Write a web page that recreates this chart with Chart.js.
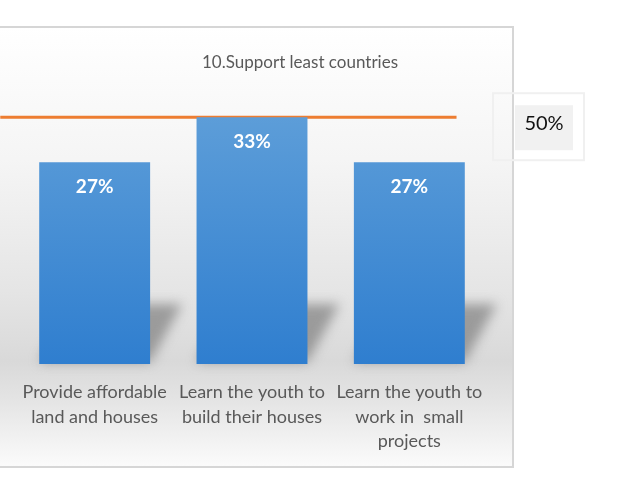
<!DOCTYPE html>
<html>
<head>
<meta charset="utf-8">
<script src="https://cdn.jsdelivr.net/npm/chart.js@4/dist/chart.umd.min.js"></script>
<style>
  html, body { margin: 0; padding: 0; background: #ffffff; }
  #wrap { width: 639px; height: 477px; position: relative; }
</style>
</head>
<body>
<div id="wrap"><canvas id="c" width="639" height="477"></canvas></div>
<script>
// Chart content
const chartTitle = '10.Support least countries';
const categories = [
  ['Provide affordable', 'land and houses'],
  ['Learn the youth to', 'build their houses'],
  ['Learn the youth to', 'work in  small', 'projects']
];
const shares = [27, 33, 27];            // percent per category
const targetLevel = 50;                 // target line, percent
const targetSpan = [-0.6, 2.3];         // line extent, in category index units

const FONT = 'Lato, "Open Sans", sans-serif';

// Frame, floor shading and the perspective shadows behind the bars
const backdrop = {
  id: 'backdrop',
  beforeDraw(chart) {
    const { ctx, chartArea } = chart;
    ctx.save();
    ctx.fillStyle = '#ffffff';
    ctx.fillRect(0, 0, chart.width, chart.height);
    const left = -2, top = 27, right = chartArea.right + 25, bottom = 467;
    const g = ctx.createLinearGradient(0, top, 0, bottom);
    g.addColorStop(0.00, '#ffffff');
    g.addColorStop(0.30, '#f5f5f5');
    g.addColorStop(0.60, '#e5e5e5');
    g.addColorStop(0.76, '#d9d9d9');
    g.addColorStop(0.84, '#e3e3e3');
    g.addColorStop(1.00, '#fbfbfb');
    ctx.fillStyle = g;
    ctx.fillRect(left, top, right - left, bottom - top);
    ctx.strokeStyle = '#d6d6d6';
    ctx.lineWidth = 2;
    ctx.strokeRect(left, top, right - left, bottom - top);
    ctx.restore();
  },
  beforeDatasetsDraw(chart) {
    const { ctx } = chart;
    const meta = chart.getDatasetMeta(0);
    ctx.save();
    ctx.filter = 'blur(6px)';
    ctx.fillStyle = 'rgba(125,125,125,0.7)';
    meta.data.forEach(bar => {
      const l = bar.x - bar.width / 2, r = bar.x + bar.width / 2, b = bar.base;
      const skew = 32, h = 60;
      ctx.beginPath();
      ctx.moveTo(l, b - 2);
      ctx.lineTo(r, b - 2);
      ctx.lineTo(r + skew, b - h);
      ctx.lineTo(l + skew, b - h);
      ctx.closePath();
      ctx.fill();
    });
    ctx.restore();
  }
};

// Value labels inside the bars and the target label box
const valueLabels = {
  id: 'valueLabels',
  afterDatasetsDraw(chart) {
    const { ctx, chartArea } = chart;
    ctx.save();
    const meta = chart.getDatasetMeta(0);
    ctx.font = 'bold 19px ' + FONT;
    ctx.fillStyle = '#ffffff';
    ctx.textAlign = 'center';
    ctx.textBaseline = 'middle';
    meta.data.forEach((bar, i) => {
      ctx.fillText(chart.data.datasets[0].data[i] + '%', bar.x, bar.y + 25);
    });

    const lineMeta = chart.getDatasetMeta(1);
    const endPt = lineMeta.data[lineMeta.data.length - 1];
    const cx = chartArea.right + 56, cy = endPt.y + 5;
    ctx.strokeStyle = '#f0f0f0';
    ctx.lineWidth = 2;
    ctx.strokeRect(cx - 51, cy - 29, 91, 67);
    ctx.fillStyle = '#f1f1f1';
    ctx.fillRect(cx - 29, cy - 17, 58, 45);
    ctx.fillStyle = '#111111';
    ctx.font = '20px ' + FONT;
    ctx.fillText(chart.data.datasets[1].data[1].y + '%', cx, cy + 1);
    ctx.restore();
  }
};

new Chart(document.getElementById('c'), {
  data: {
    labels: categories,
    datasets: [
      {
        type: 'bar',
        data: shares,
        xAxisID: 'x',
        yAxisID: 'y',
        grouped: false,
        backgroundColor(ctx) {
          const area = ctx.chart.chartArea;
          if (!area) return '#4a8fd6';
          const g = ctx.chart.ctx.createLinearGradient(0, area.top, 0, area.bottom);
          g.addColorStop(0, '#5f9fd9');
          g.addColorStop(1, '#2f7ecf');
          return g;
        },
        borderWidth: 0,
        barPercentage: 0.705,
        categoryPercentage: 1
      },
      {
        type: 'line',
        data: targetSpan.map(x => ({ x, y: targetLevel })),
        xAxisID: 'xl',
        yAxisID: 'y2',
        borderColor: '#ed7d31',
        borderWidth: 3,
        pointRadius: 0,
        tension: 0,
        clip: false
      }
    ]
  },
  options: {
    responsive: false,
    animation: false,
    events: [],
    layout: { padding: { left: 16, right: 55, top: 0, bottom: 0 } },
    plugins: {
      legend: { display: false },
      tooltip: { enabled: false },
      title: {
        display: true,
        text: chartTitle,
        color: '#595959',
        font: { family: FONT, size: 17, weight: 'normal' },
        padding: { top: 52, bottom: 30 }
      }
    },
    scales: {
      x: {
        type: 'category',
        offset: true,
        grid: { display: false, drawTicks: false },
        border: { display: false },
        ticks: {
          color: '#595959',
          font: { family: FONT, size: 18, lineHeight: 1.36 },
          padding: 16,
          maxRotation: 0,
          autoSkip: false
        },
        afterFit(s) { s.height = 113; }
      },
      xl: { type: 'linear', display: false, min: -0.5, max: 2.5 },
      y: { display: false, min: 0, max: 35 },
      y2: {
        position: 'right',
        min: 0,
        max: 53,
        grid: { display: false },
        border: { display: false },
        ticks: { display: false },
        afterFit(s) { s.width = 96; }
      }
    }
  },
  plugins: [backdrop, valueLabels]
});
</script>
</body>
</html>
